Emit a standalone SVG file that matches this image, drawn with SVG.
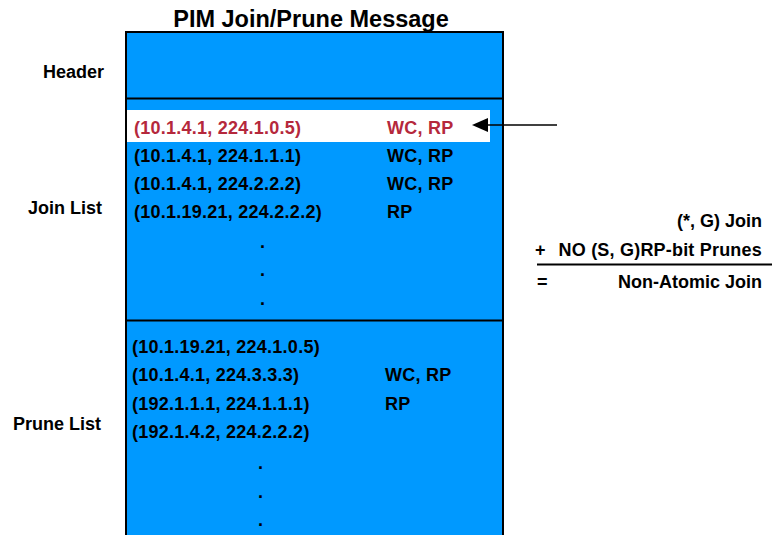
<svg xmlns="http://www.w3.org/2000/svg" width="772" height="535" viewBox="0 0 772 535">
  <style>
    text { font-family: "Liberation Sans", Arial, sans-serif; font-weight: bold; font-size: 18px; fill: #000; }
    .title { font-size: 23.5px; text-anchor: middle; }
    .entry { letter-spacing: 0.25px; }
    .hot { fill: #b5283c; }
    .end { text-anchor: end; }
    .field { fill: #0099ff; stroke: #000; stroke-width: 2; }
    .rule { stroke: #000; stroke-width: 2; fill: none; }
  </style>
  <defs>
    <marker id="head" viewBox="0 0 16 14" refX="0" refY="7" markerWidth="16" markerHeight="14" markerUnits="userSpaceOnUse" orient="auto-start-reverse">
      <path d="M0,0 L16,7 L0,14 Z" fill="#000"/>
    </marker>
  </defs>

  <rect width="772" height="535" fill="#fff"/>

  <text class="title" x="311" y="27">PIM Join/Prune Message</text>

  <!-- Message frame -->
  <g id="frame">
    <path class="field" d="M126,540 V32 H503 V540"/>
    <line class="rule" x1="126" y1="98.5" x2="503" y2="98.5"/>
    <line class="rule" x1="126" y1="320.5" x2="503" y2="320.5"/>
  </g>

  <g id="header">
    <text x="43" y="78">Header</text>
  </g>

  <g id="join-list">
    <text x="28" y="214">Join List</text>
    <rect x="127" y="110" width="363" height="32" fill="#fff"/>
    <text class="entry hot" x="134" y="133.5">(10.1.4.1, 224.1.0.5)</text>
    <text class="entry hot" x="387" y="133.5">WC, RP</text>
    <text class="entry" x="134" y="162">(10.1.4.1, 224.1.1.1)</text>
    <text class="entry" x="387" y="162">WC, RP</text>
    <text class="entry" x="134" y="190">(10.1.4.1, 224.2.2.2)</text>
    <text class="entry" x="387" y="190">WC, RP</text>
    <text class="entry" x="134" y="218">(10.1.19.21, 224.2.2.2)</text>
    <text class="entry" x="387" y="218">RP</text>
    <text x="260" y="248">.</text>
    <text x="260" y="276">.</text>
    <text x="260" y="305">.</text>
  </g>

  <g id="prune-list">
    <text x="13" y="430">Prune List</text>
    <text class="entry" x="132" y="353">(10.1.19.21, 224.1.0.5)</text>
    <text class="entry" x="132" y="381">(10.1.4.1, 224.3.3.3)</text>
    <text class="entry" x="385" y="381">WC, RP</text>
    <text class="entry" x="132" y="410">(192.1.1.1, 224.1.1.1)</text>
    <text class="entry" x="385" y="410">RP</text>
    <text class="entry" x="132" y="438">(192.1.4.2, 224.2.2.2)</text>
    <text x="258" y="469">.</text>
    <text x="258" y="498">.</text>
    <text x="258" y="526">.</text>
  </g>

  <g id="connectors">
    <line x1="557" y1="125" x2="488" y2="125" stroke="#000" stroke-width="1.6" marker-end="url(#head)"/>
  </g>

  <g id="summary">
    <text class="end" x="762" y="227">(*, G) Join</text>
    <text x="535" y="256">+</text>
    <text class="end" x="762" y="256" letter-spacing="0.2">NO (S, G)RP-bit Prunes</text>
    <line class="rule" x1="537" y1="264.5" x2="772" y2="264.5"/>
    <text x="537" y="288">=</text>
    <text class="end" x="762" y="288">Non-Atomic Join</text>
  </g>
</svg>
